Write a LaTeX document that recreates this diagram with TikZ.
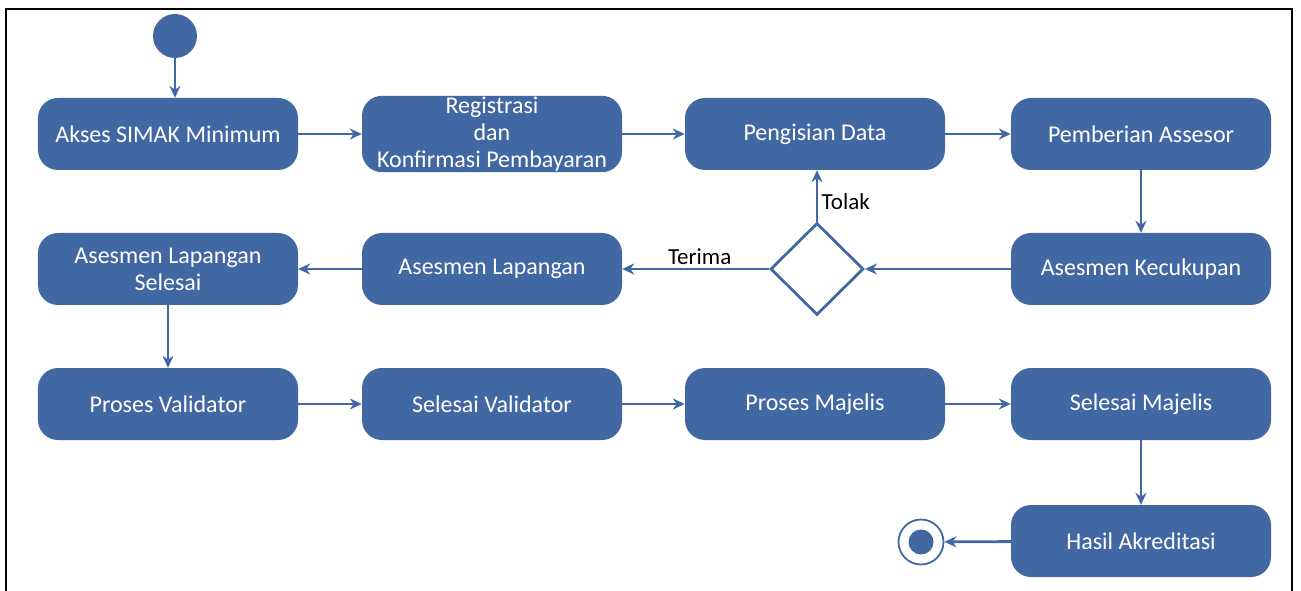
\documentclass[tikz,border=0pt]{standalone}
\usepackage{fontspec}
\setmainfont{Carlito}
\usepackage{tikz}
\usetikzlibrary{shapes.geometric, arrows, arrows.meta, positioning}
\definecolor{biru}{RGB}{66,104,164}
\tikzstyle{aktivitas} = [rectangle, rounded corners = 20pt, minimum width = 260pt, minimum height = 72pt, inner sep = 1pt, text centered, align = center, draw = none, fill = biru, text = white, font = \fontsize{24}{27}\selectfont]
\tikzstyle{keputusan} = [diamond, minimum width = 93pt, minimum height = 92pt, inner sep = 0pt, draw = biru, line width = 2.8pt, fill = white]
\tikzstyle{alur} = [-{Stealth[length = 12pt, width = 11pt]}, draw = biru, line width = 2.8pt]
\tikzstyle{ket} = [text = black, font = \fontsize{23}{26}\selectfont]

\begin{document}
\begin{tikzpicture}
\useasboundingbox (-168pt,134pt) rectangle (1133pt,-457pt);
\draw[line width = 2.5pt] (-162pt,-470pt) -- (-162pt,125pt) -- (1124pt,125pt) -- (1124pt,-470pt);
% baris pertama
\node (akses) [aktivitas] {Akses SIMAK Minimum};
\node (mulai) [circle, fill = biru, minimum size = 44pt, xshift = 7pt, yshift = 98pt] {};
\node (registrasi) [aktivitas, xshift = 324pt] {Registrasi\\dan\\Konfirmasi Pembayaran};
\node (pengisian) [aktivitas, xshift = 647pt] {Pengisian Data};
\node (pemberian) [aktivitas, xshift = 973pt] {Pemberian Assesor};
% baris kedua
\node (lapselesai) [aktivitas, yshift = -135pt] {Asesmen Lapangan\\Selesai};
\node (lapangan) [aktivitas, xshift = 324pt, yshift = -135pt] {Asesmen Lapangan};
\node (cek) [keputusan, xshift = 649pt, yshift = -135pt] {};
\node (kecukupan) [aktivitas, xshift = 973pt, yshift = -135pt] {Asesmen Kecukupan};
% baris ketiga
\node (validator) [aktivitas, yshift = -270pt] {Proses Validator};
\node (selval) [aktivitas, xshift = 324pt, yshift = -270pt] {Selesai Validator};
\node (majelis) [aktivitas, xshift = 647pt, yshift = -270pt] {Proses Majelis};
\node (selmaj) [aktivitas, xshift = 973pt, yshift = -270pt] {Selesai Majelis};
% akhir
\node (hasil) [aktivitas, xshift = 973pt, yshift = -407pt] {Hasil Akreditasi};
\node (selesai) [circle, draw = biru, line width = 1.8pt, minimum size = 45pt, xshift = 753pt, yshift = -408pt] {};
\node (titik) [circle, fill = biru, minimum size = 25pt, inner sep = 0pt, xshift = 753pt, yshift = -408pt] {};

\draw[alur] (mulai) -- (mulai |- akses.north);
\draw[alur] (akses) -- (registrasi);
\draw[alur] (registrasi) -- (pengisian);
\draw[alur] (pengisian) -- (pemberian);
\draw[alur] (pemberian) -- (kecukupan);
\draw[alur] (kecukupan) -- (cek);
\draw[alur] (cek.north) -- node[ket, anchor = west, yshift = -6pt]{Tolak} (cek.north |- pengisian.south);
\draw[alur] (cek.west) -- node[ket, above, xshift = 4pt]{Terima} (lapangan);
\draw[alur] (lapangan) -- (lapselesai);
\draw[alur] (lapselesai) -- (validator);
\draw[alur] (validator) -- (selval);
\draw[alur] (selval) -- (majelis);
\draw[alur] (majelis) -- (selmaj);
\draw[alur] (selmaj) -- (hasil);
\draw[alur] (hasil) -- (selesai);
\end{tikzpicture}
\end{document}
